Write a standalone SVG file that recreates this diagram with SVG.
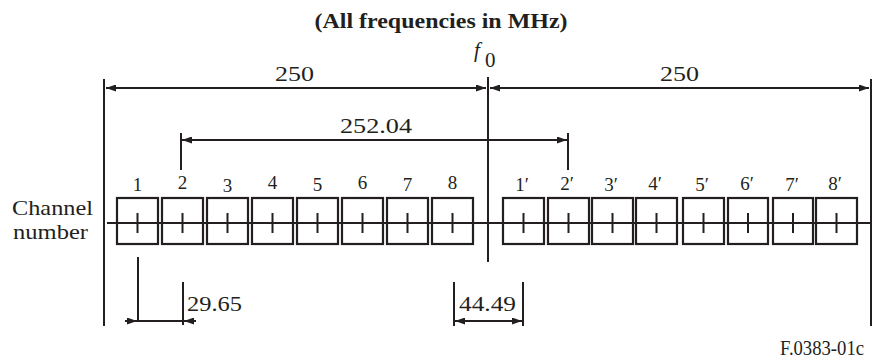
<svg xmlns="http://www.w3.org/2000/svg" width="875" height="363" viewBox="0 0 875 363">
<style>
text{font-family:Liberation Serif, DejaVu Serif, Times New Roman, serif;fill:#231f20}
.ln{stroke:#231f20;stroke-width:2;fill:none}
.bx{stroke:#231f20;stroke-width:2.2;fill:none}
.t{font-size:21px}
.n{font-size:19px;text-anchor:middle}
.c{text-anchor:middle}
</style>
<defs>
<marker id="ah" viewBox="0 0 10 7" refX="10" refY="3.5" markerWidth="10" markerHeight="7" markerUnits="userSpaceOnUse" orient="auto-start-reverse">
<path d="M0,0 L10,3.5 L0,7 z" fill="#231f20"/>
</marker>
</defs>
<rect width="875" height="363" fill="#fff"/>
<text class="t c" x="441" y="28" font-weight="bold" textLength="253" lengthAdjust="spacingAndGlyphs">(All frequencies in MHz)</text>
<g id="f0"><text class="t" x="474" y="57" font-style="italic" font-size="22">f</text><text class="t" x="485" y="67" font-size="16">0</text></g>
<g id="connectors">
<line class="ln" x1="104" y1="79" x2="104" y2="326"/>
<line class="ln" x1="871" y1="79" x2="871" y2="326"/>
<line class="ln" x1="488" y1="77" x2="488" y2="262"/>
<line class="ln" x1="106" y1="88" x2="486" y2="88" marker-start="url(#ah)" marker-end="url(#ah)"/>
<line class="ln" x1="490" y1="88" x2="869" y2="88" marker-start="url(#ah)" marker-end="url(#ah)"/>
<line class="ln" x1="181" y1="133" x2="181" y2="170"/>
<line class="ln" x1="568" y1="133" x2="568" y2="170"/>
<line class="ln" x1="182" y1="140" x2="567" y2="140" marker-start="url(#ah)" marker-end="url(#ah)"/>
<line class="ln" x1="107" y1="223" x2="871" y2="223"/>
<line class="ln" x1="138" y1="257" x2="138" y2="322"/>
<line class="ln" x1="183" y1="282" x2="183" y2="325"/>
<line class="ln" x1="138" y1="321" x2="183" y2="321"/>
<line class="ln" x1="125" y1="321" x2="137" y2="321" marker-end="url(#ah)"/>
<line class="ln" x1="196" y1="321" x2="184" y2="321" marker-end="url(#ah)"/>
<line class="ln" x1="454" y1="282" x2="454" y2="326"/>
<line class="ln" x1="523" y1="282" x2="523" y2="326"/>
<line class="ln" x1="455" y1="321" x2="522" y2="321" marker-start="url(#ah)" marker-end="url(#ah)"/>
</g>
<text class="t" x="275" y="81" textLength="39" lengthAdjust="spacingAndGlyphs">250</text>
<text class="t" x="660" y="81" textLength="39" lengthAdjust="spacingAndGlyphs">250</text>
<text class="t" x="340" y="133" textLength="72" lengthAdjust="spacingAndGlyphs">252.04</text>
<text class="t" x="187" y="311" textLength="55" lengthAdjust="spacingAndGlyphs">29.65</text>
<text class="t" x="459" y="311" textLength="57" lengthAdjust="spacingAndGlyphs">44.49</text>
<g id="label"><text class="t" x="12" y="215" textLength="81" lengthAdjust="spacingAndGlyphs">Channel</text><text class="t" x="13" y="239" textLength="75" lengthAdjust="spacingAndGlyphs">number</text></g>
<g id="ch1"><rect class="bx" x="117" y="198" width="41" height="46"/><line class="ln" x1="137.5" y1="213" x2="137.5" y2="233"/><text class="n" x="137.5" y="191">1</text></g>
<g id="ch2"><rect class="bx" x="162" y="198" width="41" height="46"/><line class="ln" x1="182.5" y1="213" x2="182.5" y2="233"/><text class="n" x="182.5" y="189">2</text></g>
<g id="ch3"><rect class="bx" x="207" y="198" width="41" height="46"/><line class="ln" x1="227.5" y1="213" x2="227.5" y2="233"/><text class="n" x="227.5" y="192">3</text></g>
<g id="ch4"><rect class="bx" x="252" y="198" width="41" height="46"/><line class="ln" x1="272.5" y1="213" x2="272.5" y2="233"/><text class="n" x="272.5" y="189">4</text></g>
<g id="ch5"><rect class="bx" x="297" y="198" width="41" height="46"/><line class="ln" x1="317.5" y1="213" x2="317.5" y2="233"/><text class="n" x="317.5" y="191">5</text></g>
<g id="ch6"><rect class="bx" x="342" y="198" width="41" height="46"/><line class="ln" x1="362.5" y1="213" x2="362.5" y2="233"/><text class="n" x="362.5" y="189">6</text></g>
<g id="ch7"><rect class="bx" x="387" y="198" width="41" height="46"/><line class="ln" x1="407.5" y1="213" x2="407.5" y2="233"/><text class="n" x="407.5" y="191">7</text></g>
<g id="ch8"><rect class="bx" x="432" y="198" width="41" height="46"/><line class="ln" x1="452.5" y1="213" x2="452.5" y2="233"/><text class="n" x="452.5" y="189">8</text></g>
<g id="ch1p"><rect class="bx" x="503" y="198" width="41" height="46"/><line class="ln" x1="523.5" y1="213" x2="523.5" y2="233"/><text class="n" x="522" y="191">1′</text></g>
<g id="ch2p"><rect class="bx" x="548" y="198" width="41" height="46"/><line class="ln" x1="568.5" y1="213" x2="568.5" y2="233"/><text class="n" x="567" y="190">2′</text></g>
<g id="ch3p"><rect class="bx" x="592" y="198" width="41" height="46"/><line class="ln" x1="612.5" y1="213" x2="612.5" y2="233"/><text class="n" x="611" y="191">3′</text></g>
<g id="ch4p"><rect class="bx" x="636" y="198" width="41" height="46"/><line class="ln" x1="656.5" y1="213" x2="656.5" y2="233"/><text class="n" x="655" y="190">4′</text></g>
<g id="ch5p"><rect class="bx" x="683" y="198" width="41" height="46"/><line class="ln" x1="703.5" y1="213" x2="703.5" y2="233"/><text class="n" x="702" y="191">5′</text></g>
<g id="ch6p"><rect class="bx" x="728" y="198" width="40" height="46"/><line class="ln" x1="748" y1="213" x2="748" y2="233"/><text class="n" x="747" y="190">6′</text></g>
<g id="ch7p"><rect class="bx" x="773" y="198" width="40" height="46"/><line class="ln" x1="793" y1="213" x2="793" y2="233"/><text class="n" x="792" y="191">7′</text></g>
<g id="ch8p"><rect class="bx" x="816" y="198" width="41" height="46"/><line class="ln" x1="836.5" y1="213" x2="836.5" y2="233"/><text class="n" x="835" y="190">8′</text></g>
<text class="t" x="780" y="355" font-size="15" textLength="84" lengthAdjust="spacingAndGlyphs">F.0383-01c</text>
</svg>
